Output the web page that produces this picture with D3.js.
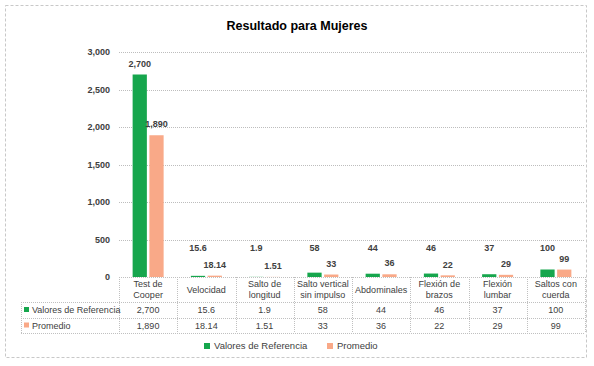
<!DOCTYPE html>
<html>
<head>
<meta charset="utf-8">
<script src="https://cdn.jsdelivr.net/npm/d3@7"></script>
<style>
  body { margin: 0; background: #fff; }
  svg { font-family: "Liberation Sans", Arial, sans-serif; }
</style>
</head>
<body>
<div id="chart"></div>
<script>
"use strict";

// data
const categories = [["Test de", "Cooper"], ["Velocidad"], ["Salto de", "longitud"],
  ["Salto vertical", "sin impulso"], ["Abdominales"], ["Flexión de", "brazos"],
  ["Flexión", "lumbar"], ["Saltos con", "cuerda"]];
const seriesNames = ["Valores de Referencia", "Promedio"];
const valoresRef = [2700, 15.6, 1.9, 58, 44, 46, 37, 100];
const promedio = [1890, 18.14, 1.51, 33, 36, 22, 29, 99];
const yTicks = [0, 500, 1000, 1500, 2000, 2500, 3000];

const width = 594, height = 366;
const plotLeft = 119, plotRight = 585, plotTop = 52, plotBottom = 277;
const fmt = d3.format(",");
const fills = ["#16a64d", "#f9a988"];

const svg = d3.select("#chart").append("svg")
  .attr("width", width).attr("height", height);

// outer border
svg.append("rect")
  .attr("x", 5.5).attr("y", 5.5).attr("width", 581).attr("height", 352)
  .attr("fill", "none").attr("stroke", "#c8c8c8").attr("stroke-dasharray", "3,2");

svg.append("text")
  .attr("x", 297).attr("y", 30)
  .attr("text-anchor", "middle")
  .style("font-size", "12.5px").style("font-weight", "bold")
  .text("Resultado para Mujeres");

const x = d3.scaleBand().domain(d3.range(categories.length)).range([plotLeft, plotRight]);
const bw = x.bandwidth();
const x1 = d3.scaleBand().domain([0, 1]).range([bw / 2 - 15.5, bw / 2 + 15.5]).paddingInner(0.15);
const y = d3.scaleLinear().domain([0, 3000]).range([plotBottom, plotTop]);

// gridlines
svg.append("g")
  .selectAll("line")
  .data(yTicks.filter(d => d > 0))
  .join("line")
    .attr("x1", plotLeft).attr("x2", plotRight)
    .attr("y1", d => Math.round(y(d)) + 0.5).attr("y2", d => Math.round(y(d)) + 0.5)
    .attr("stroke", "#bdbdbd").attr("stroke-dasharray", "1,1");

// y axis
const yAxis = svg.append("g")
  .attr("transform", `translate(${plotLeft - 9},0)`)
  .call(d3.axisLeft(y).tickValues(yTicks).tickFormat(fmt).tickSize(0).tickPadding(0));
yAxis.select(".domain").remove();
yAxis.selectAll("text")
  .style("font-size", "9px").style("font-weight", "bold").attr("fill", "#404040")
  .style("font-family", "Liberation Sans, Arial, sans-serif");

// bars
const series = [valoresRef, promedio];
series.forEach((vals, s) => {
  svg.append("g").selectAll("rect")
    .data(vals)
    .join("rect")
      .attr("x", (d, i) => x(i) + x1(s))
      .attr("width", x1.bandwidth())
      .attr("y", d => y(d))
      .attr("height", d => y(0) - y(d))
      .attr("fill", fills[s]);

  svg.append("g").selectAll("text")
    .data(vals)
    .join("text")
      .attr("x", (d, i) => x(i) + x1(s) + x1.bandwidth() / 2)
      .attr("y", d => s == 0 ? Math.min(y(d) - 11, y(0) - 29) : y(d) - 11)
      .attr("dy", "0.35em")
      .attr("text-anchor", "middle")
      .style("font-size", "9px").style("font-weight", "bold").attr("fill", "#404040")
      .text(d => fmt(d));
});

// data table
const tRow = [plotBottom, 302, 318, 333];
const tLeft = 21;
const table = svg.append("g")
  .attr("stroke", "#c0c0c0").attr("stroke-dasharray", "1,1").attr("fill", "none");
table.append("line").attr("x1", plotLeft).attr("x2", plotRight)
  .attr("y1", tRow[0] + 0.5).attr("y2", tRow[0] + 0.5);
tRow.slice(1).forEach(r => {
  table.append("line").attr("x1", tLeft).attr("x2", plotRight)
    .attr("y1", r + 0.5).attr("y2", r + 0.5);
});
table.append("line").attr("x1", tLeft + 0.5).attr("x2", tLeft + 0.5)
  .attr("y1", tRow[1]).attr("y2", tRow[3]);
d3.range(categories.length + 1).forEach(i => {
  const xx = Math.round(plotLeft + i * bw) + 0.5;
  table.append("line").attr("x1", xx).attr("x2", xx)
    .attr("y1", tRow[0]).attr("y2", tRow[3]);
});

// category header
svg.append("g").selectAll("text")
  .data(categories)
  .join("text")
    .attr("text-anchor", "middle")
    .style("font-size", "9px").attr("fill", "#404040")
    .each(function(d, i) {
      const t = d3.select(this);
      const cy = (tRow[0] + tRow[1]) / 2;
      d.forEach((line, k) => {
        t.append("tspan")
          .attr("x", x(i) + bw / 2)
          .attr("y", cy + (k - (d.length - 1) / 2) * 11)
          .attr("dy", "0.35em")
          .text(line);
      });
    });

// table rows
series.forEach((vals, s) => {
  const cy = (tRow[s + 1] + tRow[s + 2]) / 2;
  svg.append("rect").attr("x", 24).attr("y", cy - 3).attr("width", 5).attr("height", 5)
    .attr("fill", fills[s]);
  svg.append("text").attr("x", 32).attr("y", cy).attr("dy", "0.35em")
    .style("font-size", "9px").attr("fill", "#404040")
    .text(seriesNames[s]);
  svg.append("g").selectAll("text")
    .data(vals)
    .join("text")
      .attr("x", (d, i) => x(i) + bw / 2)
      .attr("y", cy).attr("dy", "0.35em")
      .attr("text-anchor", "middle")
      .style("font-size", "9px").attr("fill", "#404040")
      .text(d => fmt(d));
});

// legend
const legend = svg.append("g").attr("transform", "translate(204,346)");
const legX = [0, 123];
seriesNames.forEach((n, s) => {
  legend.append("rect").attr("x", legX[s]).attr("y", -3).attr("width", 6).attr("height", 6)
    .attr("fill", fills[s]);
  legend.append("text").attr("x", legX[s] + 10).attr("y", 0).attr("dy", "0.35em")
    .style("font-size", "9.5px").attr("fill", "#404040")
    .text(n);
});
</script>
</body>
</html>
